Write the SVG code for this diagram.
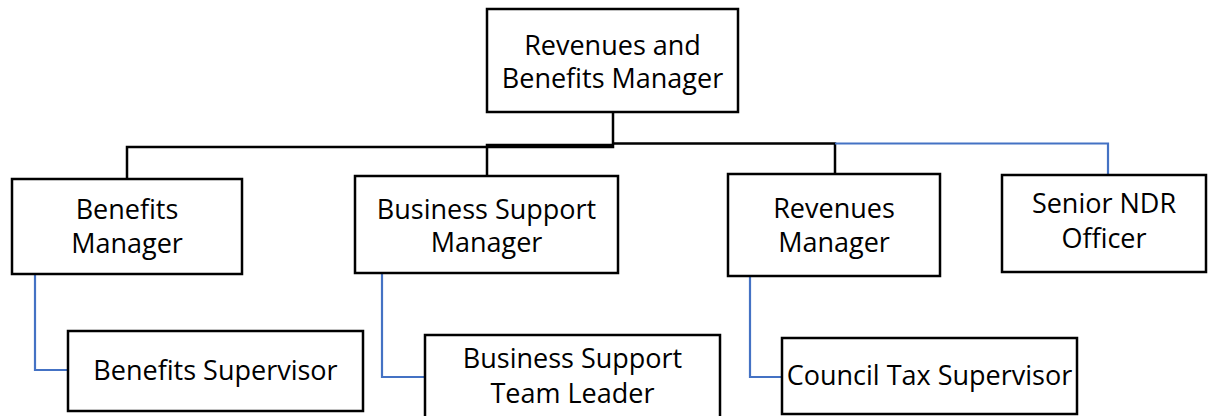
<svg xmlns="http://www.w3.org/2000/svg" width="1208" height="416" viewBox="0 0 1208 416">
<style>
.box{fill:#fff;stroke:#000;stroke-width:2.5}
.t{font-family:"Open Sans","Liberation Sans",sans-serif;font-size:27px;fill:#000;text-anchor:middle}
.k{fill:none;stroke:#000;stroke-width:2.5}
.b{fill:none;stroke:#4472C4;stroke-width:2.2}
</style>
<rect width="1208" height="416" fill="#fff"/>
<g id="connectors">
<path class="k" d="M613,112 V147 H127 V179"/>
<path class="k" d="M613,145 H487 V176"/>
<path class="k" d="M613,143.5 H835 V174"/>
<path class="b" d="M835,143.5 H1108 V174"/>
<path class="b" d="M35,274 V370 H68"/>
<path class="b" d="M382,273 V377 H425"/>
<path class="b" d="M750,276 V377 H782"/>
</g>
<g id="n-rbm"><rect class="box" x="487" y="9" width="251" height="103"/><text class="t" x="612.5" y="55">Revenues and</text><text class="t" x="612.5" y="88">Benefits Manager</text></g>
<g id="n-bm"><rect class="box" x="12" y="179" width="230" height="95"/><text class="t" x="127" y="219">Benefits</text><text class="t" x="127" y="253">Manager</text></g>
<g id="n-bsm"><rect class="box" x="355" y="176" width="263" height="97"/><text class="t" x="486.5" y="219">Business Support</text><text class="t" x="486.5" y="252">Manager</text></g>
<g id="n-rm"><rect class="box" x="728" y="174" width="212" height="102"/><text class="t" x="834" y="218">Revenues</text><text class="t" x="834" y="252">Manager</text></g>
<g id="n-ndr"><rect class="box" x="1002" y="175" width="204" height="97"/><text class="t" x="1104" y="213">Senior NDR</text><text class="t" x="1104" y="248">Officer</text></g>
<g id="n-bs"><rect class="box" x="68" y="331" width="295" height="80"/><text class="t" x="215.5" y="380">Benefits Supervisor</text></g>
<g id="n-bstl"><rect class="box" x="425" y="335" width="295" height="90"/><text class="t" x="572.5" y="368">Business Support</text><text class="t" x="572.5" y="403">Team Leader</text></g>
<g id="n-cts"><rect class="box" x="782" y="338" width="295" height="76"/><text class="t" x="929.5" y="385">Council Tax Supervisor</text></g>
</svg>
